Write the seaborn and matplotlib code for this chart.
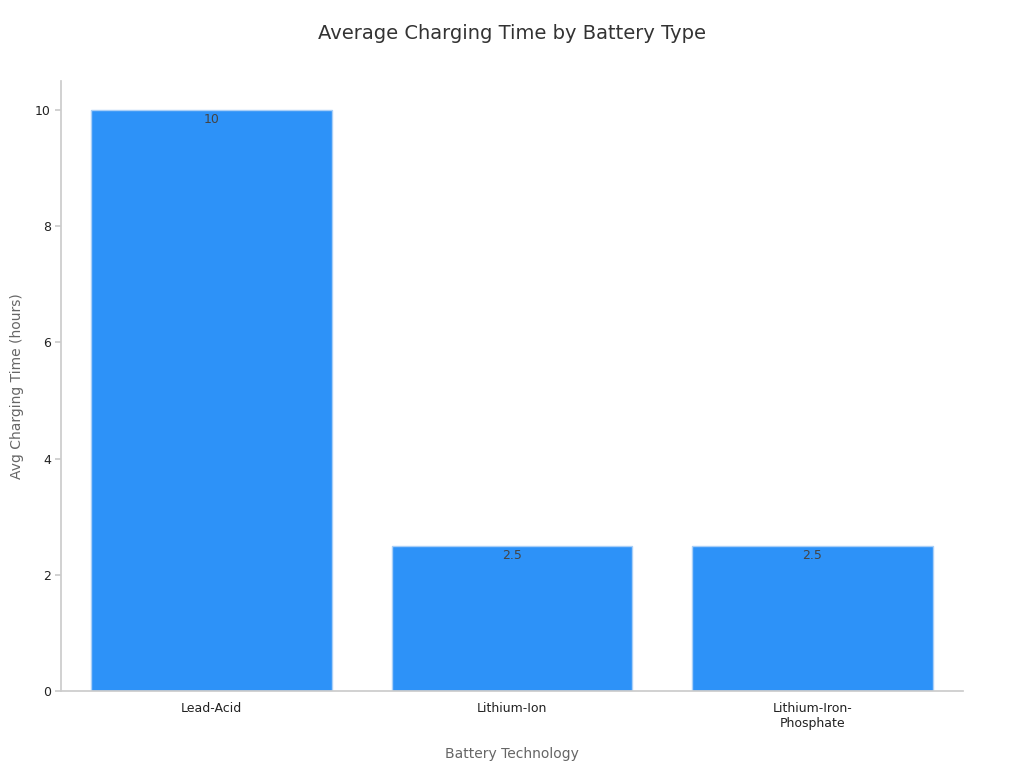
import matplotlib

matplotlib.use("Agg")
import matplotlib.pyplot as plt
import pandas as pd
import seaborn as sns

battery_types = ["Lead-Acid", "Lithium-Ion", "Lithium-Iron-\nPhosphate"]
charge_hours = [10, 2.5, 2.5]

sns.set_theme(style="ticks")
plt.rcParams["font.family"] = ["DejaVu Sans"]

df = pd.DataFrame({"type": battery_types, "hours": charge_hours})
fig, ax = plt.subplots(figsize=(10.24, 7.68), dpi=100)
sns.barplot(data=df, x="type", y="hours", color="#2d92f8", saturation=1,
            width=0.8, edgecolor="#a9cff7", linewidth=1, ax=ax)
for bar, v in zip(ax.patches, charge_hours):
    ax.text(bar.get_x() + bar.get_width() / 2, v - 0.05, f"{v:g}",
            ha="center", va="top", fontsize=9, color="#444444")

ax.set_ylim(0, 10.5)
ax.set_title("Average Charging Time by Battery Type", fontsize=14, color="#333333", pad=30)
ax.set_xlabel("Battery Technology", fontsize=10, color="#666666", labelpad=12)
ax.set_ylabel("Avg Charging Time (hours)", fontsize=10, color="#666666", labelpad=8)
ax.tick_params(axis="both", labelsize=9, labelcolor="#222222", length=4, color="#cccccc")
ax.tick_params(axis="x", length=0, pad=8)
for s in ["top", "right"]:
    ax.spines[s].set_visible(False)
for s in ["left", "bottom"]:
    ax.spines[s].set_color("#cccccc")
fig.subplots_adjust(left=0.06, right=0.94, top=0.895, bottom=0.1)
fig.savefig("out.png", dpi=100, facecolor="white")
